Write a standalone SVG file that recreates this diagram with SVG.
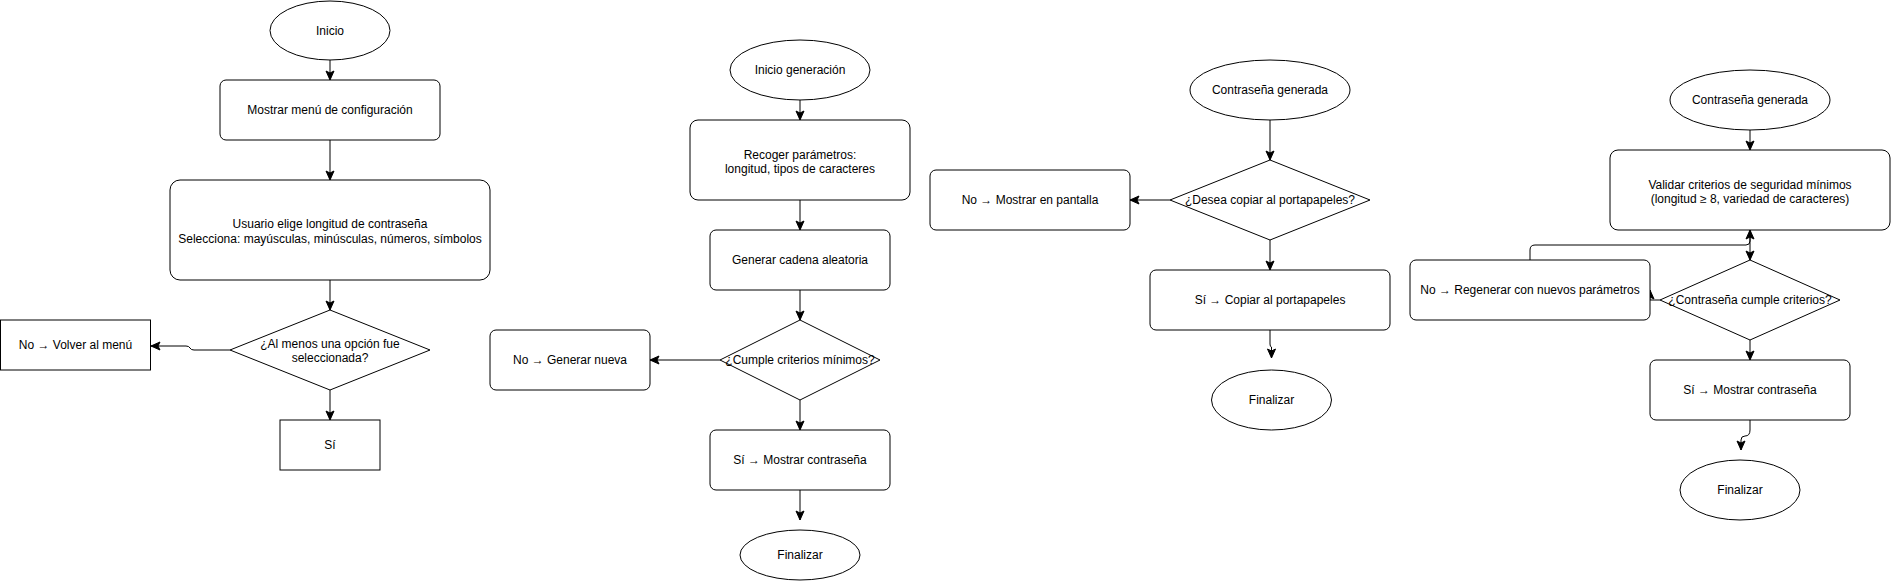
<svg xmlns="http://www.w3.org/2000/svg" width="1891" height="581" viewBox="0 0 1891 581">
<defs>
<style>
.s{fill:#fff;stroke:#000;stroke-width:1}
.t{font-family:"Liberation Sans",Arial,Helvetica,sans-serif;font-size:12px;fill:#000;text-anchor:middle}
.c{fill:none;stroke:#000;stroke-width:1}
</style>
<marker id="a" markerUnits="userSpaceOnUse" markerWidth="10" markerHeight="10" refX="9" refY="4" orient="auto" overflow="visible">
<path d="M0,0 L9,4 L0,8 L2,4 z" fill="#000" stroke="#000" stroke-width="1"/>
</marker>
</defs>
<rect width="1891" height="581" fill="#fff"/>
<g id="connectors">
<path class="c" d="M330,60 V80" marker-end="url(#a)"/>
<path class="c" d="M330,140 V180" marker-end="url(#a)"/>
<path class="c" d="M330,280 V310" marker-end="url(#a)"/>
<path class="c" d="M230,350 H194 Q191,350 190,348 Q189,346 186,346 H151" marker-end="url(#a)"/>
<path class="c" d="M330,390 V420" marker-end="url(#a)"/>
<path class="c" d="M800,100 V120" marker-end="url(#a)"/>
<path class="c" d="M800,200 V230" marker-end="url(#a)"/>
<path class="c" d="M800,290 V320" marker-end="url(#a)"/>
<path class="c" d="M720,360 H650" marker-end="url(#a)"/>
<path class="c" d="M800,400 V430" marker-end="url(#a)"/>
<path class="c" d="M800,490 V520" marker-end="url(#a)"/>
<path class="c" d="M1270,120 V160" marker-end="url(#a)"/>
<path class="c" d="M1170,200 H1130" marker-end="url(#a)"/>
<path class="c" d="M1270,240 V270" marker-end="url(#a)"/>
<path class="c" d="M1270,330 V344 Q1270,347 1271.5,347 V358" marker-end="url(#a)"/>
<path class="c" d="M1750,130 V150" marker-end="url(#a)"/>
<path class="c" d="M1750,230 V260" marker-end="url(#a)"/>
<path class="c" d="M1530,260 V250 Q1530,245 1535,245 H1746 Q1750,245 1750,241 V230" marker-end="url(#a)"/>
<path class="c" d="M1660,300 H1650 V290" marker-end="url(#a)"/>
<path class="c" d="M1750,340 V360" marker-end="url(#a)"/>
<path class="c" d="M1750,420 V430 Q1750,436 1745,436 Q1741,436 1741,440 V450" marker-end="url(#a)"/>
</g>
<g id="inicio"><ellipse class="s" cx="330" cy="30.5" rx="60" ry="29.5"/><text class="t" x="330" y="34.5">Inicio</text></g>
<g id="menu"><rect class="s" x="220" y="80" width="220" height="60" rx="6"/><text class="t" x="330" y="114">Mostrar menú de configuración</text></g>
<g id="usuario"><rect class="s" x="170" y="180" width="320" height="100" rx="10"/><text class="t" x="330" y="228">Usuario elige longitud de contraseña</text><text class="t" x="330" y="243">Selecciona: mayúsculas, minúsculas, números, símbolos</text></g>
<g id="alMenos"><path class="s" d="M330,310 L430,350 L330,390 L230,350 z"/><text class="t" x="330" y="347.5">¿Al menos una opción fue</text><text class="t" x="330" y="362">seleccionada?</text></g>
<g id="volver"><rect class="s" x="0.5" y="320" width="150" height="50"/><text class="t" x="75.5" y="349">No → Volver al menú</text></g>
<g id="si1"><rect class="s" x="280" y="420" width="100" height="50"/><text class="t" x="330" y="449">Sí</text></g>
<g id="inicioGen"><ellipse class="s" cx="800" cy="70" rx="70" ry="30"/><text class="t" x="800" y="74">Inicio generación</text></g>
<g id="recoger"><rect class="s" x="690" y="120" width="220" height="80" rx="8"/><text class="t" x="800" y="158.5">Recoger parámetros:</text><text class="t" x="800" y="173">longitud, tipos de caracteres</text></g>
<g id="generar"><rect class="s" x="710" y="230" width="180" height="60" rx="6"/><text class="t" x="800" y="264">Generar cadena aleatoria</text></g>
<g id="cumple"><path class="s" d="M800,320 L880,360 L800,400 L720,360 z"/><text class="t" x="800" y="364">¿Cumple criterios mínimos?</text></g>
<g id="nueva"><rect class="s" x="490" y="330" width="160" height="60" rx="6"/><text class="t" x="570" y="364">No → Generar nueva</text></g>
<g id="mostrar1"><rect class="s" x="710" y="430" width="180" height="60" rx="6"/><text class="t" x="800" y="464">Sí → Mostrar contraseña</text></g>
<g id="fin1"><ellipse class="s" cx="800" cy="555" rx="60" ry="25"/><text class="t" x="800" y="559">Finalizar</text></g>
<g id="generada1"><ellipse class="s" cx="1270" cy="90" rx="80" ry="30"/><text class="t" x="1270" y="94">Contraseña generada</text></g>
<g id="copiarQ"><path class="s" d="M1270,160 L1370,200 L1270,240 L1170,200 z"/><text class="t" x="1270" y="204">¿Desea copiar al portapapeles?</text></g>
<g id="pantalla"><rect class="s" x="930" y="170" width="200" height="60" rx="6"/><text class="t" x="1030" y="204">No → Mostrar en pantalla</text></g>
<g id="copiar"><rect class="s" x="1150" y="270" width="240" height="60" rx="6"/><text class="t" x="1270" y="304">Sí → Copiar al portapapeles</text></g>
<g id="fin2"><ellipse class="s" cx="1271.5" cy="400" rx="60" ry="30"/><text class="t" x="1271.5" y="404">Finalizar</text></g>
<g id="generada2"><ellipse class="s" cx="1750" cy="100" rx="80" ry="30"/><text class="t" x="1750" y="104">Contraseña generada</text></g>
<g id="validar"><rect class="s" x="1610" y="150" width="280" height="80" rx="8"/><text class="t" x="1750" y="188.5">Validar criterios de seguridad mínimos</text><text class="t" x="1750" y="203">(longitud ≥ 8, variedad de caracteres)</text></g>
<g id="cumpleQ"><path class="s" d="M1750,260 L1840,300 L1750,340 L1660,300 z"/><text class="t" x="1750" y="304">¿Contraseña cumple criterios?</text></g>
<g id="regenerar"><rect class="s" x="1410" y="260" width="240" height="60" rx="6"/><text class="t" x="1530" y="294">No → Regenerar con nuevos parámetros</text></g>
<g id="mostrar2"><rect class="s" x="1650" y="360" width="200" height="60" rx="6"/><text class="t" x="1750" y="394">Sí → Mostrar contraseña</text></g>
<g id="fin3"><ellipse class="s" cx="1740" cy="490" rx="60" ry="30"/><text class="t" x="1740" y="494">Finalizar</text></g>
</svg>
